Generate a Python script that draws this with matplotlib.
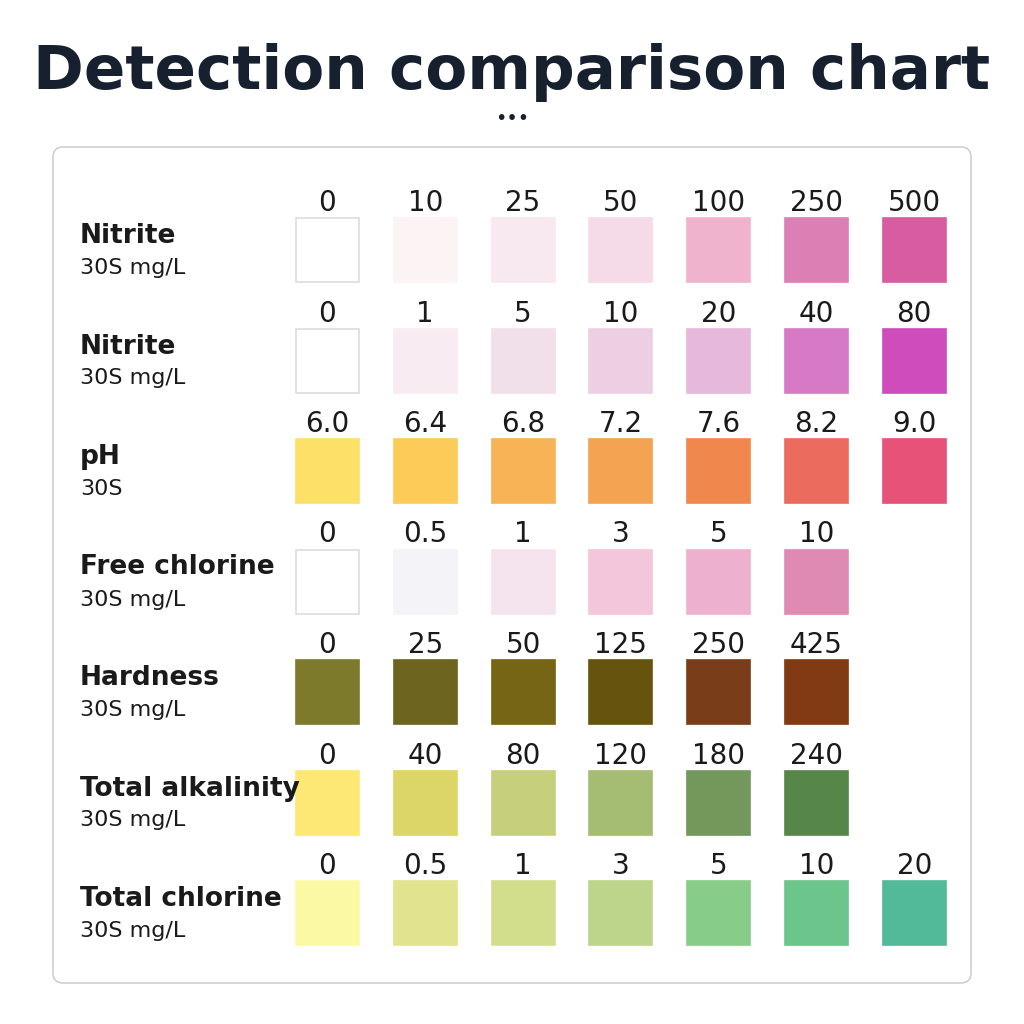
import matplotlib.pyplot as plt
from matplotlib.patches import Rectangle, FancyBboxPatch

names = ["Nitrite", "Nitrite", "pH", "Free chlorine", "Hardness", "Total alkalinity", "Total chlorine"]
units = ["30S mg/L", "30S mg/L", "30S", "30S mg/L", "30S mg/L", "30S mg/L", "30S mg/L"]
levels = [
    ["0", "10", "25", "50", "100", "250", "500"],
    ["0", "1", "5", "10", "20", "40", "80"],
    ["6.0", "6.4", "6.8", "7.2", "7.6", "8.2", "9.0"],
    ["0", "0.5", "1", "3", "5", "10"],
    ["0", "25", "50", "125", "250", "425"],
    ["0", "40", "80", "120", "180", "240"],
    ["0", "0.5", "1", "3", "5", "10", "20"],
]
colors = [
    ["#ffffff", "#fcf3f4", "#f8e8ef", "#f5dae8", "#f0b3ce", "#dc7fb4", "#d75da0"],
    ["#ffffff", "#f8ebf2", "#f1e0ea", "#edcfe4", "#e6b8dc", "#d77ac6", "#cf4cbc"],
    ["#fde068", "#fdcb58", "#f8b356", "#f3a352", "#f0884e", "#ec6b5f", "#e65278"],
    ["#ffffff", "#f4f3f8", "#f5e3ee", "#f3c6db", "#edb1cf", "#de8ab3"],
    ["#7d7a2c", "#6d6420", "#756514", "#66540e", "#7a3d1a", "#813a12"],
    ["#fde876", "#dcd567", "#c6cf7b", "#a5bd73", "#72985c", "#568749"],
    ["#fcf9a5", "#e2e38f", "#d3de8c", "#bcd58a", "#87cd87", "#6cc58b", "#52ba98"],
]

fig = plt.figure(figsize=(10.24, 10.24), dpi=100)
ax = fig.add_axes([0, 0, 1, 1])
ax.set_xlim(0, 1024)
ax.set_ylim(1024, 0)
ax.axis("off")

ax.text(512, 72, "Detection comparison chart", ha="center", va="center",
        fontsize=44, fontweight="bold", color="#17202e", family="DejaVu Sans")
ax.text(512, 118, "•••", ha="center", va="center", fontsize=14, color="#17202e")

ax.add_patch(FancyBboxPatch((53, 147), 918, 836, boxstyle="round,pad=0,rounding_size=10",
                            facecolor="white", edgecolor="#d0d0d0", lw=1.2))

x0, dx, w = 296, 97.8, 63
y0, dy, h = 218, 110.5, 64
for i, (nm, un, lv, cs) in enumerate(zip(names, units, levels, colors)):
    top = y0 + i * dy
    ax.text(80, top + 18, nm, ha="left", va="center", fontsize=19, fontweight="bold", color="#1a1a1a")
    ax.text(80, top + 50, un, ha="left", va="center", fontsize=16, color="#1a1a1a")
    for j, (l, c) in enumerate(zip(lv, cs)):
        x = x0 + j * dx
        ec = "#dddddd" if c == "#ffffff" else c
        ax.add_patch(Rectangle((x, top), w, h, facecolor=c, edgecolor=ec, lw=1.2))
        ax.text(x + w / 2, top - 15, l, ha="center", va="center", fontsize=20, color="#1a1a1a")

fig.savefig("out.png", dpi=100, facecolor="white")
